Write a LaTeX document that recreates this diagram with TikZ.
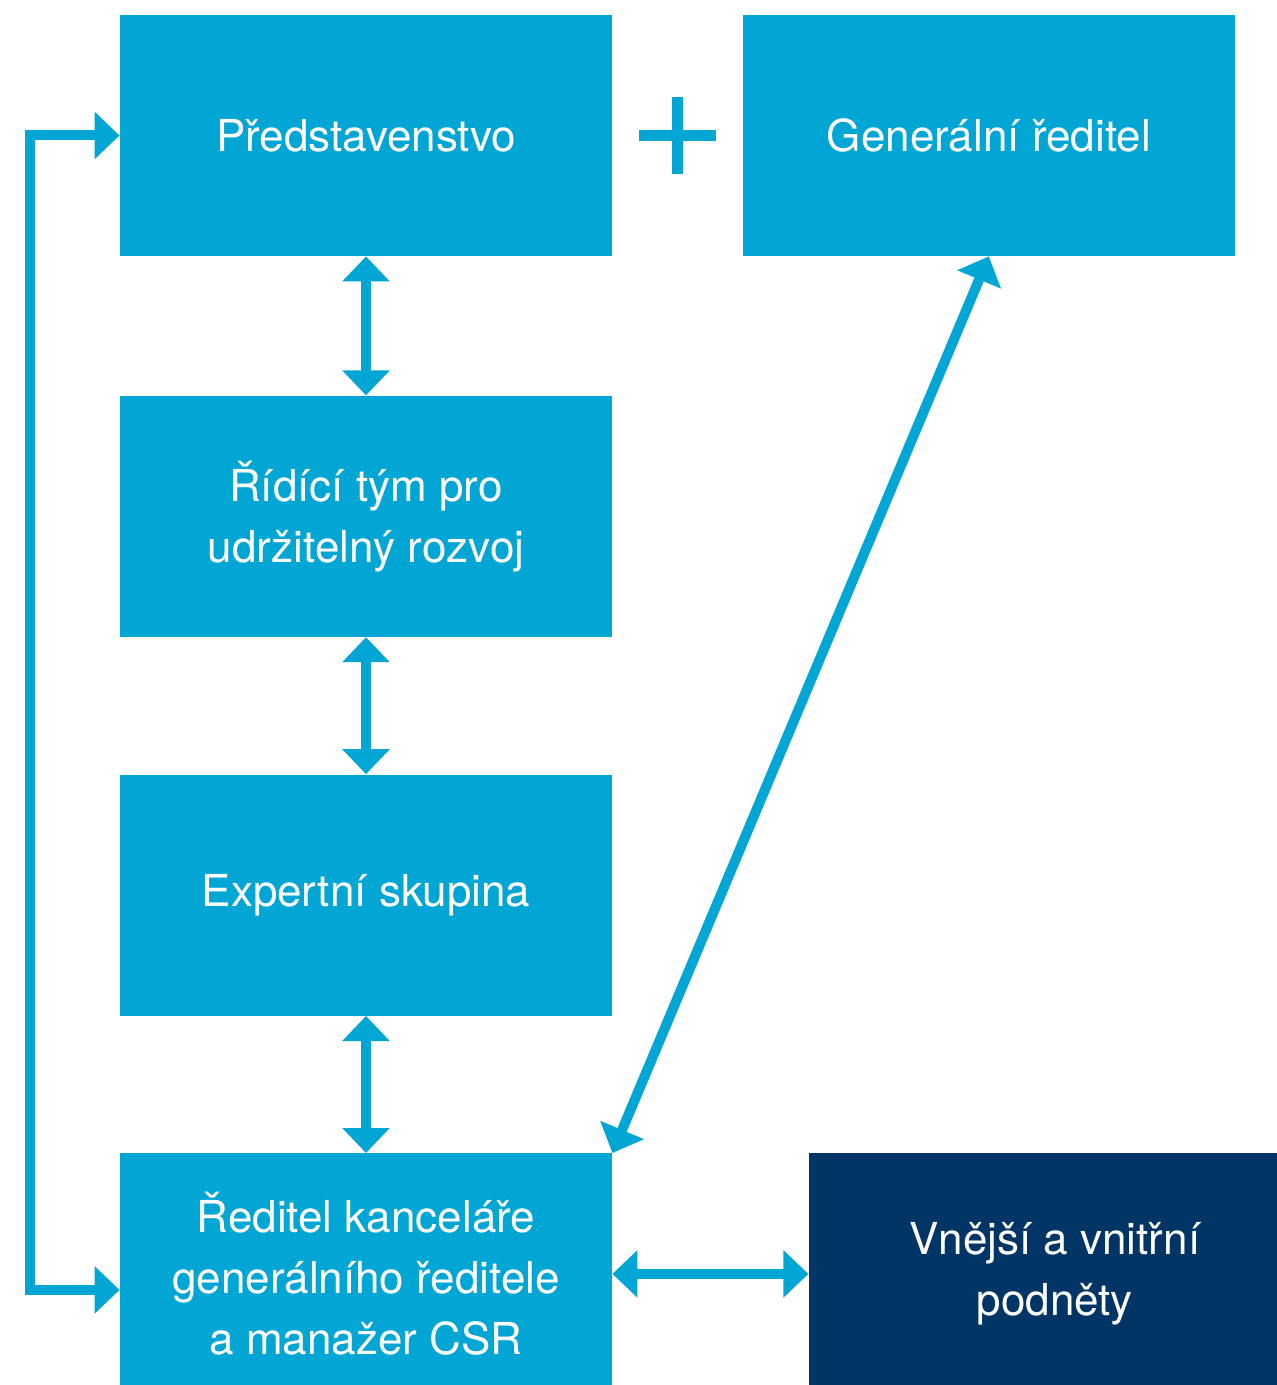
\documentclass[tikz,border=0pt]{standalone}
\usepackage{fontspec}
\setmainfont{TeX Gyre Heros}
\usetikzlibrary{arrows.meta,positioning}
\definecolor{csrblue}{RGB}{2,166,213}
\definecolor{csrnavy}{RGB}{0,53,102}

\begin{document}
\begin{tikzpicture}[x=0.5pt,y=-0.5pt]
  \tikzset{main node/.style={rectangle, fill=csrblue, text=white,
		text centered, align=center, inner sep=0pt,
		minimum width=246pt, minimum height=120.5pt,
		font=\fontsize{22pt}{30.5pt}\selectfont}, }
\tikzset{outer node/.style={main node, fill=csrnavy}, }
\tikzset{linea/.style={color=csrblue, line width=5pt,
		{Triangle[length=12.5pt,width=23pt]}-{Triangle[length=12.5pt,width=23pt]}},}
\useasboundingbox (0,0) rectangle (1277,1385);
    \node[main node] (1) at (366,135.5) {Představenstvo};
    \node[main node] (2) [right =65pt of 1] {Generální ředitel};
    \node[main node] (3) [below =69.5pt of 1] {Řídící tým pro\\udržitelný rozvoj};
    \node[main node] (4) [below =68.5pt of 3] {Expertní skupina};
    \node[main node] (5) [below =68.5pt of 4] {Ředitel kanceláře\\generálního ředitele\\a manažer CSR};
    \node[outer node] (6) [right =98pt of 5] {Vnější a vnitřní\\podněty};
    \coordinate (plus) at ([xshift=32.5pt]1.east);
%
\foreach \x /\y in{1/3,3/4,4/5,5/6}
  \path[linea] (\x) edge (\y);
\path[linea] (5.north east) edge (2.south);
\draw[linea] (1.west) -- ++(-45pt,0) |- ([yshift=-8pt]5.west);
%
\draw[csrblue, line width=5.5pt] ([xshift=-19.25pt]plus) -- ([xshift=19.25pt]plus)
  ([yshift=-19.25pt]plus) -- ([yshift=19.25pt]plus);
\end{tikzpicture}
\end{document}
